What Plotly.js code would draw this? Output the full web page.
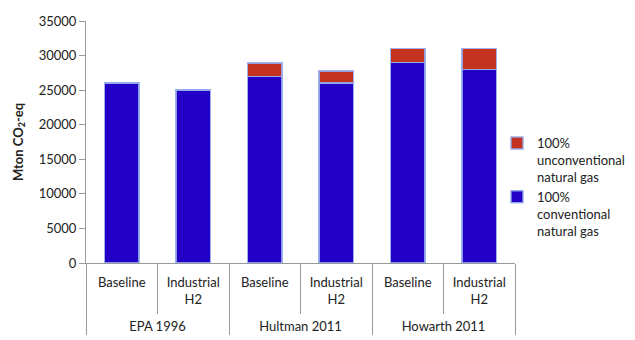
<!DOCTYPE html>
<html>
<head>
<meta charset="utf-8">
<script src="https://cdn.plot.ly/plotly-3.0.1.min.js"></script>
<style>html,body{margin:0;padding:0;background:#fff;}#chart{width:635px;height:340px;}</style>
</head>
<body>
<div id="chart"></div>
<script>
const groups = ["<br>EPA 1996","<br>EPA 1996","<br>Hultman 2011","<br>Hultman 2011","<br>Howarth 2011","<br>Howarth 2011"];
const scenarios = ["Baseline","Industrial<br>H2","Baseline","Industrial<br>H2","Baseline","Industrial<br>H2"];
const conventional = [26000, 25000, 27000, 26000, 29000, 28000];
const unconventional = [0, 0, 1900, 1800, 2000, 3000];
const seriesNames = ["100%<br>conventional<br>natural gas", "100%<br>unconventional<br>natural gas"];

const outline = {color: "rgba(150,170,235,0.9)", width: 1.5};
const traces = [
  {type: "bar", x: [groups, scenarios], y: conventional, name: seriesNames[0],
   marker: {color: "#2200c6", line: outline}, hoverinfo: "skip"},
  {type: "bar", x: [groups, scenarios], y: unconventional, name: seriesNames[1],
   marker: {color: "#c43220", line: outline}, hoverinfo: "skip"}
];

const layout = {
  width: 635, height: 340,
  margin: {l: 86, r: 120, t: 21, b: 77, autoexpand: false},
  paper_bgcolor: "#fff", plot_bgcolor: "#fff",
  font: {family: "Lato, 'Open Sans', sans-serif", size: 13, color: "#222"},
  barmode: "stack",
  bargap: 0.52,
  showlegend: true,
  legend: {xref: "container", yref: "container", x: 497/635, y: 1 - 128/340,
           xanchor: "left", yanchor: "top", traceorder: "reversed", valign: "top",
           font: {size: 13, color: "#222"}, tracegroupgap: 4, bgcolor: "rgba(0,0,0,0)"},
  xaxis: {type: "multicategory", showline: true, linecolor: "#999", linewidth: 1,
          ticks: "outside", ticklen: 50, tickcolor: "#999", tickson: "boundaries",
          ticklabelstandoff: 7,
          showdividers: true, dividercolor: "#999", dividerwidth: 1,
          showgrid: false, tickfont: {size: 13, color: "#222"}},
  yaxis: {range: [0, 35000], dtick: 5000, tickformat: "d", showgrid: false, zeroline: false,
          showline: true, linecolor: "#999", linewidth: 1, ticks: "outside",
          ticklen: 6, tickcolor: "#999", tickfont: {size: 13, color: "#222"},
          title: {text: "<b>Mton CO<sub>2</sub>-eq</b>", font: {size: 13, color: "#222"}, standoff: 12}}
};

Plotly.newPlot("chart", traces, layout, {displayModeBar: false, staticPlot: true});
</script>
</body>
</html>
